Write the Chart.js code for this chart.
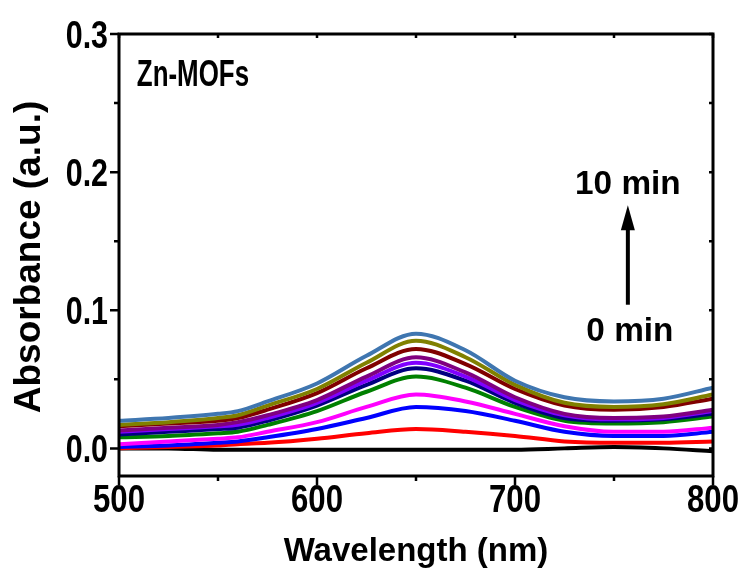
<!DOCTYPE html>
<html>
<head>
<meta charset="utf-8">
<script src="https://cdn.jsdelivr.net/npm/chart.js@4"></script>
<style>
  body { margin: 0; background: #fff; }
  #wrap { width: 747px; height: 580px; }
</style>
</head>
<body>
<div id="wrap"><canvas id="absChart"></canvas></div>
<script>
const wavelengths = [500, 525, 550, 560, 575, 600, 625, 650, 675, 700, 725, 750, 775, 800];

// one spectrum per minute, 0 min .. 10 min
const min0  = [0.000, 0.000, -0.001, -0.001, -0.001, -0.001, -0.001, -0.001, -0.001, -0.001, 0.000, 0.001, 0.000, -0.002];
const min1  = [0.000, 0.001, 0.002, 0.003, 0.004, 0.007, 0.011, 0.014, 0.012, 0.009, 0.005, 0.004, 0.004, 0.005];
const min2  = [0.001, 0.002, 0.004, 0.005, 0.008, 0.014, 0.022, 0.030, 0.027, 0.020, 0.012, 0.009, 0.009, 0.012];
const min3  = [0.003, 0.005, 0.007, 0.008, 0.012, 0.019, 0.030, 0.039, 0.034, 0.025, 0.016, 0.012, 0.012, 0.015];
const min4  = [0.008, 0.009, 0.011, 0.012, 0.017, 0.027, 0.041, 0.052, 0.044, 0.030, 0.020, 0.018, 0.019, 0.023];
const min5  = [0.010, 0.012, 0.014, 0.015, 0.020, 0.031, 0.046, 0.058, 0.049, 0.033, 0.022, 0.020, 0.021, 0.025];
const min6  = [0.012, 0.014, 0.016, 0.017, 0.022, 0.033, 0.049, 0.062, 0.052, 0.035, 0.024, 0.021, 0.022, 0.027];
const min7  = [0.013, 0.015, 0.017, 0.019, 0.024, 0.035, 0.052, 0.066, 0.055, 0.037, 0.025, 0.022, 0.023, 0.028];
const min8  = [0.016, 0.018, 0.020, 0.022, 0.028, 0.040, 0.058, 0.072, 0.061, 0.043, 0.031, 0.028, 0.030, 0.036];
const min9  = [0.017, 0.019, 0.022, 0.024, 0.031, 0.043, 0.062, 0.078, 0.066, 0.046, 0.033, 0.030, 0.032, 0.039];
const min10 = [0.020, 0.022, 0.025, 0.027, 0.034, 0.047, 0.067, 0.083, 0.071, 0.049, 0.037, 0.034, 0.036, 0.044];

const spectra = [min0, min1, min2, min3, min4, min5, min6, min7, min8, min9, min10];
const colors = ['#000000', '#FF0000', '#0000FF', '#FF00FF', '#008000', '#000080',
                '#8000FF', '#800080', '#800000', '#808000', '#3F76B0'];

const xMajor = [500, 600, 700, 800];
const xMinor = [550, 650, 750];
const yMajor = [0.0, 0.1, 0.2, 0.3];
const yMinor = [0.05, 0.15, 0.25];

const FONT = '"Liberation Sans", Arial, sans-serif';

const datasets = spectra.map((vals, i) => ({
  label: i + ' min',
  data: vals.map((v, j) => ({ x: wavelengths[j], y: v })),
  borderColor: colors[i],
  borderWidth: 4,
  pointRadius: 0,
  fill: false,
  cubicInterpolationMode: 'monotone'
}));
// draw the 10 min curve on top
datasets.reverse();

// text squeezed horizontally, like the narrow bold font of the original
function squeezed(ctx, text, x, y, sx, align) {
  ctx.save();
  ctx.translate(x, y);
  ctx.scale(sx, 1);
  ctx.textAlign = align;
  ctx.fillText(text, 0, 0);
  ctx.restore();
}

// frame, tick marks, labels, arrow
const framePlugin = {
  id: 'frame',
  afterDraw(chart) {
    const ctx = chart.ctx;
    const a = chart.chartArea;
    const xs = chart.scales.x, ys = chart.scales.y;
    ctx.save();
    ctx.strokeStyle = '#000';
    ctx.fillStyle = '#000';
    ctx.lineWidth = 3;
    ctx.strokeRect(a.left, a.top, a.right - a.left, a.bottom - a.top);

    ctx.lineWidth = 2.5;
    ctx.beginPath();
    xMajor.concat(xMinor).forEach(v => {
      const px = xs.getPixelForValue(v);
      const len = xMajor.includes(v) ? 9 : 5;
      ctx.moveTo(px, a.bottom); ctx.lineTo(px, a.bottom + len);
      ctx.moveTo(px, a.top); ctx.lineTo(px, a.top + 4);
    });
    yMajor.concat(yMinor).forEach(v => {
      const py = ys.getPixelForValue(v);
      const len = yMajor.includes(v) ? 9 : 5;
      ctx.moveTo(a.left, py); ctx.lineTo(a.left - len, py);
      ctx.moveTo(a.right, py); ctx.lineTo(a.right - 4, py);
    });
    ctx.stroke();

    // tick labels
    ctx.font = 'bold 38px ' + FONT;
    ctx.textBaseline = 'alphabetic';
    xMajor.forEach(v => squeezed(ctx, String(v), xs.getPixelForValue(v), a.bottom + 36, 0.82, 'center'));
    yMajor.forEach(v => squeezed(ctx, v.toFixed(1), a.left - 11, ys.getPixelForValue(v) + 14, 0.8, 'right'));

    // axis titles
    ctx.textBaseline = 'middle';
    ctx.textAlign = 'center';
    ctx.font = 'bold 33px ' + FONT;
    ctx.fillText('Wavelength (nm)', (a.left + a.right) / 2, 552);
    ctx.save();
    ctx.translate(30, (a.top + a.bottom) / 2 + 2);
    ctx.rotate(-Math.PI / 2);
    ctx.font = 'bold 37px ' + FONT;
    ctx.fillText('Absorbance (a.u.)', 0, 0);
    ctx.restore();

    // arrow 0 min -> 10 min
    const ax = xs.getPixelForValue(757);
    const y0 = ys.getPixelForValue(0.104);
    const y1 = ys.getPixelForValue(0.176);
    ctx.lineWidth = 4;
    ctx.beginPath();
    ctx.moveTo(ax, y0); ctx.lineTo(ax, y1 + 18);
    ctx.stroke();
    ctx.beginPath();
    ctx.moveTo(ax, y1);
    ctx.lineTo(ax - 7, y1 + 25);
    ctx.lineTo(ax + 7, y1 + 25);
    ctx.closePath();
    ctx.fill();

    ctx.textBaseline = 'alphabetic';
    ctx.font = 'bold 34px ' + FONT;
    squeezed(ctx, '10 min', ax, ys.getPixelForValue(0.184), 0.98, 'center');
    squeezed(ctx, '0 min', ax + 2, ys.getPixelForValue(0.078), 0.98, 'center');
    ctx.font = 'bold 36px ' + FONT;
    squeezed(ctx, 'Zn-MOFs', xs.getPixelForValue(509), ys.getPixelForValue(0.262), 0.72, 'left');
    ctx.restore();
  }
};

new Chart(document.getElementById('absChart'), {
  type: 'line',
  data: { datasets: datasets },
  plugins: [framePlugin],
  options: {
    responsive: true,
    maintainAspectRatio: false,
    animation: false,
    layout: { padding: { top: 34, right: 34, left: 0, bottom: 0 } },
    plugins: { legend: { display: false }, tooltip: { enabled: false } },
    scales: {
      x: {
        type: 'linear',
        min: 500,
        max: 800,
        afterFit: s => { s.height = 104; },
        grid: { display: false },
        border: { display: false },
        ticks: { display: false }
      },
      y: {
        min: -0.02,
        max: 0.3,
        afterFit: s => { s.width = 119; },
        grid: { display: false },
        border: { display: false },
        ticks: { display: false }
      }
    }
  }
});
</script>
</body>
</html>
